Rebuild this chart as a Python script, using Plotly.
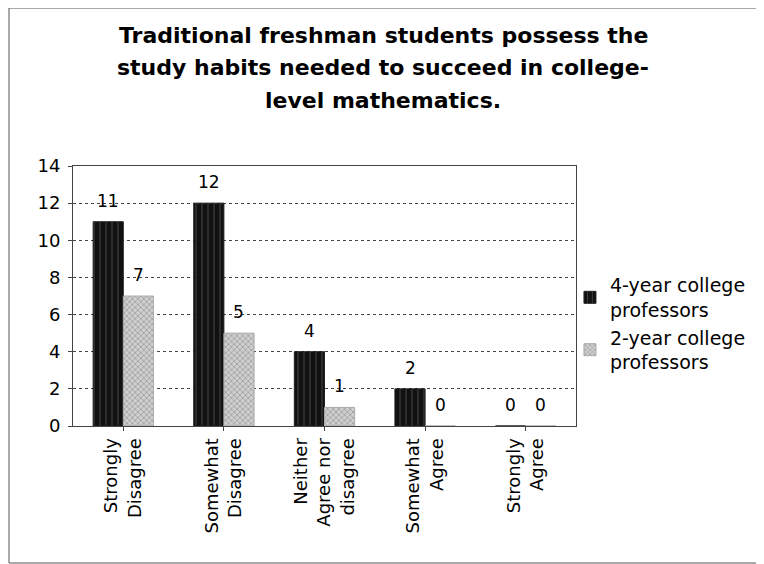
import plotly.graph_objects as go

categorias = ['Strongly<br>Disagree', 'Somewhat<br>Disagree', 'Neither<br>Agree nor<br>disagree',
              'Somewhat<br>Agree', 'Strongly<br>Agree']
cuatro_anios = [11, 12, 4, 2, 0]
dos_anios = [7, 5, 1, 0, 0]
titulo = ['Traditional freshman students possess the',
          'study habits needed to succeed in college-',
          'level mathematics.']

fuente = 'DejaVu Sans'

fig = go.Figure()
fig.add_trace(go.Bar(
    x=categorias, y=cuatro_anios, name='4-year college<br>professors',
    marker=dict(color='#111111', line=dict(color='#222222', width=1),
                pattern=dict(shape='|', fgcolor='#888888', bgcolor='#111111', size=6, solidity=0.15)),
))
fig.add_trace(go.Bar(
    x=categorias, y=dos_anios, name='2-year college<br>professors',
    marker=dict(color='#bdbdbd', line=dict(color='#aaaaaa', width=1),
                pattern=dict(shape='x', fgcolor='#666666', bgcolor='#cfcfcf', size=4, solidity=0.35)),
))

# etiquetas de valor un poco mas arriba que el "outside" de plotly
for cat, v4, v2 in zip(categorias, cuatro_anios, dos_anios):
    for val, dx in ((v4, -15), (v2, 15)):
        fig.add_annotation(x=cat, y=val, xref='x', yref='y', text=str(val),
                           xshift=dx, yshift=21, showarrow=False,
                           font=dict(family=fuente, size=17, color='black'))

# margenes pensados para el desplazamiento de ~7px del body
alto_plot = 260
fig.update_layout(
    width=764, height=564,
    paper_bgcolor='white', plot_bgcolor='white',
    margin=dict(l=65, r=196, t=158, b=146),
    barmode='group', bargap=0.4, bargroupgap=0,
    font=dict(family=fuente, size=18, color='black'),
    legend=dict(x=0.988, y=0.615, xanchor='left', yanchor='top', itemwidth=30,
                bgcolor='rgba(0,0,0,0)',
                font=dict(family=fuente, size=19), tracegroupgap=0),
    showlegend=True,
)
for i, linea in enumerate(titulo):
    y_px = 27 + 32.5 * i
    fig.add_annotation(text='<b>' + linea + '</b>', xref='paper', yref='paper',
                       x=(375 - 65) / 503, y=(418 - y_px) / alto_plot,
                       xanchor='center', yanchor='middle', showarrow=False,
                       font=dict(family=fuente, size=22, color='black'))

fig.update_yaxes(range=[0, 14], dtick=2, showgrid=True, gridcolor='#444444', griddash='dot',
                 gridwidth=1, showline=True, linecolor='#444444', mirror=True,
                 ticks='outside', ticklen=4, tickcolor='#444444', zeroline=False,
                 tickfont=dict(size=18), ticklabelstandoff=4)
fig.update_xaxes(tickangle=-90, showline=True, linecolor='#444444', mirror=True,
                 ticks='outside', ticklen=4, tickcolor='#444444', tickfont=dict(size=18))

# marco exterior del grafico
fig.add_shape(type='rect', xref='paper', yref='paper',
              x0=-64 / 503, x1=(755 - 65) / 503,
              y0=-(555 - 418) / alto_plot, y1=418 / alto_plot,
              line=dict(color='#555555', width=1))

fig.write_html('out.html')
